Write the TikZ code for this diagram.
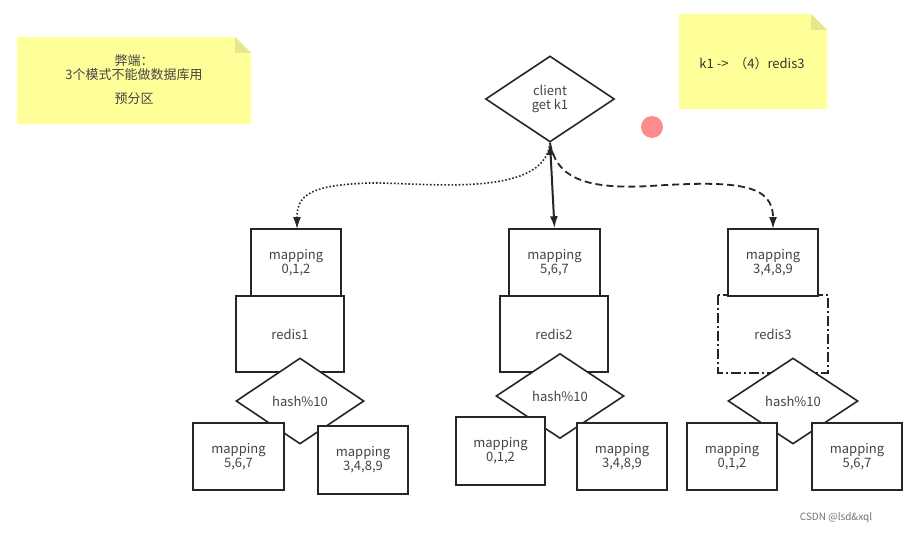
\documentclass[tikz,border=0pt]{standalone}
\usepackage{fontspec}
\setmainfont{Noto Sans CJK SC}
\usetikzlibrary{arrows.meta,shapes.geometric}
\definecolor{txt}{HTML}{444444}
\definecolor{note}{HTML}{FFFF99}
\definecolor{fold}{HTML}{E6E68A}
\begin{document}
\begin{tikzpicture}[x=1pt,y=-1pt,
  >={Latex[length=12pt,width=8pt]},
  lbl/.style={font=\fontsize{13}{14}\selectfont,text=txt,align=center},
  bx/.style={draw=black!85,line width=1.6pt,fill=white},
  arr/.style={->,line width=1.6pt,black!85}]
\useasboundingbox (0,0) rectangle (909,535);
\fill[white] (0,0) rectangle (909,535);
% notes
\fill[note] (17,37) -- (235,37) -- (251,53) -- (251,124) -- (17,124) -- cycle;
\fill[fold] (235,37) -- (251,53) -- (235,53) -- cycle;
\node[lbl] (n1) at (134,80) {弊端：\\3个模式不能做数据库用\\[10pt]预分区};
\fill[note] (679,14) -- (811,14) -- (827,30) -- (827,109) -- (679,109) -- cycle;
\fill[fold] (811,14) -- (827,30) -- (811,30) -- cycle;
\node[lbl,text=black!80] (n2) at (752,64) {k1 ->\ \ （4）redis3};
\fill[red!45!white] (652,127) circle (11);
% client
\node[draw=black!85,line width=1.6pt,diamond,aspect=1.5,minimum width=129,minimum height=86,inner sep=0,lbl] (c) at (550,99) {client\\get k1};
% group 1
\node[bx,minimum width=108,minimum height=76,lbl] (r1) at (290,334) {redis1};
\node[bx,minimum width=90,minimum height=67,lbl] (t1) at (296,262.5) {mapping\\0,1,2};
\node[bx,diamond,aspect=1.5,minimum width=128,minimum height=86,inner sep=0,lbl] (h1) at (300,401) {hash\%10};
\node[bx,minimum width=91,minimum height=67,lbl] (a1) at (238.5,456.5) {mapping\\5,6,7};
\node[bx,minimum width=90,minimum height=68,lbl] (b1) at (363,460) {mapping\\3,4,8,9};
% group 2
\node[bx,minimum width=108,minimum height=76,lbl] (r2) at (554,334) {redis2};
\node[bx,minimum width=91,minimum height=67,lbl] (t2) at (554.5,262.5) {mapping\\5,6,7};
\node[bx,diamond,aspect=1.5,minimum width=128,minimum height=85,inner sep=0,lbl] (h2) at (560,396) {hash\%10};
\node[bx,minimum width=89,minimum height=68,lbl] (a2) at (500.5,451) {mapping\\0,1,2};
\node[bx,minimum width=90,minimum height=67,lbl] (b2) at (622,456.5) {mapping\\3,4,8,9};
% group 3
\node[bx,draw=none,minimum width=108,minimum height=76,lbl] (r3) at (773,334) {redis3};
\draw[line width=1.6pt,black!85,dash pattern=on 10pt off 3pt on 2pt off 3pt] (r3.north west) rectangle (r3.south east);
\node[bx,minimum width=90,minimum height=67,lbl] (t3) at (773,262.5) {mapping\\3,4,8,9};
\node[bx,diamond,aspect=1.5,minimum width=130,minimum height=86,inner sep=0,lbl] (h3) at (793,401) {hash\%10};
\node[bx,minimum width=90,minimum height=67,lbl] (a3) at (732,456.5) {mapping\\0,1,2};
\node[bx,minimum width=90,minimum height=67,lbl] (b3) at (857,456.5) {mapping\\5,6,7};
% arrows
\draw[arr,<->,line width=2pt] (c.south) -- (t2.north);
\draw[arr,dotted,line width=1.6pt] (c.south) .. controls (545,200) and (420,182) .. (370,183) .. controls (310,185) and (297,195) .. (297,229);
\draw[arr,dash pattern=on 7pt off 4pt,line width=1.8pt] (c.south) .. controls (556,175) and (580,190) .. (650,186) .. controls (740,180) and (773,185) .. (773,229);
\node[font=\fontsize{10}{11}\selectfont,text=black!55] (wm) at (836,518) {CSDN @lsd\&xql};
\end{tikzpicture}
\end{document}
